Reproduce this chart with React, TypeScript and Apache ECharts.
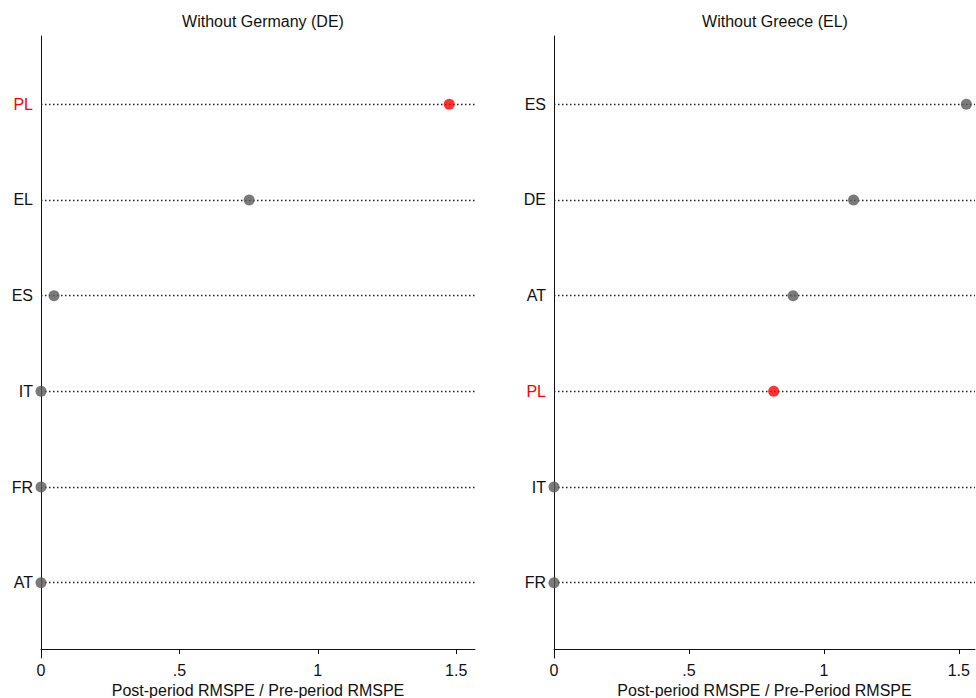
import React, { useEffect, useRef } from "react";
import * as echarts from "echarts";

const leftTitle = "Without Germany (DE)";
const rightTitle = "Without Greece (EL)";
const leftXName = "Post-period RMSPE / Pre-period RMSPE";
const rightXName = "Post-period RMSPE / Pre-Period RMSPE";

// bottom to top
const leftCountries = ["AT", "FR", "IT", "ES", "EL", "PL"];
const leftValues = [0, 0, 0, 0.047, 0.752, 1.475];
const rightCountries = ["FR", "IT", "PL", "AT", "DE", "ES"];
const rightValues = [0, 0, 0.814, 0.886, 1.11, 1.528];
const highlight = "PL";
const xTicks = [0, 0.5, 1, 1.5];

const RED = "#ff0000";
const GRAY = "#595959";

export default function App() {
  const ref = useRef<HTMLDivElement>(null);
  useEffect(() => {
    const chart = echarts.init(ref.current!, null, { renderer: "svg" });
    const font = "Arial, 'Liberation Sans', sans-serif";
    const panels = [
      { countries: leftCountries, values: leftValues, xName: leftXName, max: 1.568 },
      { countries: rightCountries, values: rightValues, xName: rightXName, max: 1.56 },
    ];
    const grids = [
      { left: 41, top: 36, width: 434, height: 622, outerBoundsMode: "none", containLabel: false },
      { left: 554, top: 36, width: 421, height: 622, outerBoundsMode: "none", containLabel: false },
    ];
    const xAxis = panels.map((p, i) => ({
      type: "value",
      gridIndex: i,
      min: 0,
      max: p.max,
      interval: 0.5,
      offset: -9,
      name: p.xName,
      nameLocation: "middle",
      nameGap: 28,
      nameTextStyle: { fontSize: 16, color: "#111", fontFamily: font },
      axisLine: { show: true, onZero: false, lineStyle: { color: "#111", width: 1 } },
      axisTick: { show: true, length: 5, lineStyle: { color: "#111" }, customValues: xTicks },
      axisLabel: {
        fontSize: 16,
        color: "#111",
        fontFamily: font,
        margin: 13,
        customValues: xTicks,
        formatter: (v: number) => (v === 0 ? "0" : String(v).replace(/^0/, "")),
      },
      splitLine: { show: false },
    }));
    const yAxis = panels.map((p, i) => ({
      type: "value",
      gridIndex: i,
      min: 0.213,
      max: 6.714,
      axisLine: { show: true, onZero: false, lineStyle: { color: "#111", width: 1 } },
      axisTick: { show: false },
      splitLine: { show: false },
      axisLabel: {
        fontSize: 16,
        color: "#111",
        fontFamily: font,
        margin: 8,
        customValues: p.countries.map((_, k) => k + 1),
        formatter: (v: number) => {
          const name = p.countries[Math.round(v) - 1] ?? "";
          return name === highlight ? `{red|${name}}` : name;
        },
        rich: { red: { color: RED, fontSize: 16, fontFamily: font } },
      },
    }));
    const series: any[] = [];
    panels.forEach((p, i) => {
      series.push({
        type: "line",
        xAxisIndex: i,
        yAxisIndex: i,
        data: [],
        markLine: {
          silent: true,
          symbol: "none",
          label: { show: false },
          lineStyle: { type: [1.5, 2.5], color: "#222", width: 1.3 },
          data: p.countries.map((_, k) => ({ yAxis: k + 1 })),
        },
      });
      series.push({
        type: "scatter",
        xAxisIndex: i,
        yAxisIndex: i,
        z: 5,
        clip: false,
        symbolSize: 11,
        data: p.values.map((v, k) => ({
          value: [v, k + 1],
          itemStyle: { color: p.countries[k] === highlight ? RED : GRAY },
        })),
      });
    });
    chart.setOption({
      animation: false,
      backgroundColor: "#fff",
      title: [
        { text: leftTitle, left: 258, top: 8, textAlign: "center", textStyle: { fontSize: 16, fontWeight: "normal", color: "#111", fontFamily: font } },
        { text: rightTitle, left: 770, top: 8, textAlign: "center", textStyle: { fontSize: 16, fontWeight: "normal", color: "#111", fontFamily: font } },
      ],
      grid: grids,
      xAxis,
      yAxis,
      series,
    });
    return () => chart.dispose();
  }, []);
  return <div ref={ref} style={{ width: 976, height: 698, position: "absolute", left: 0, top: 0 }} />;
}
